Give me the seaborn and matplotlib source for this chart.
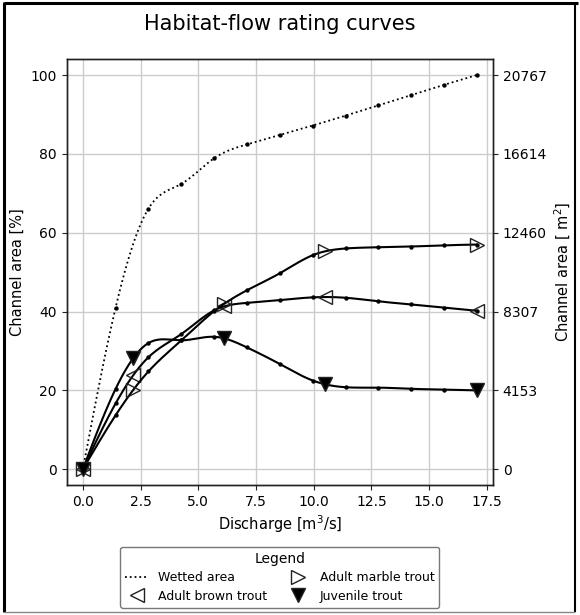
import numpy as np
import pandas as pd
import matplotlib
matplotlib.use("Agg")
import matplotlib.pyplot as plt
from matplotlib.lines import Line2D
import seaborn as sns

# Discharge steps [m3/s]
discharge = [0.0, 1.42, 2.84, 4.27, 5.69, 7.11, 8.53, 9.96, 11.38, 12.80, 14.22, 15.64, 17.07]
# Habitat as share of the total channel area [%]
wetted_area = [0.0, 41.0, 66.1, 72.4, 78.9, 82.4, 84.8, 87.2, 89.7, 92.3, 94.9, 97.5, 100.0]
adult_brown = [0.0, 16.7, 28.4, 34.3, 40.3, 42.2, 42.9, 43.6, 43.5, 42.6, 41.8, 41.0, 40.2]
adult_marble = [0.0, 13.7, 24.8, 32.7, 40.1, 45.4, 49.7, 54.3, 56.0, 56.3, 56.5, 56.8, 57.0]
juvenile = [0.0, 20.4, 32.0, 32.7, 33.6, 30.9, 26.7, 22.5, 20.8, 20.7, 20.4, 20.2, 20.0]
# Total channel area [m2]
total_area = 20767
# Flows at which the species symbols are shown
symbol_flows = [0.0, 2.2, 6.1, 10.5, 17.07]
pct_ticks = [0, 20, 40, 60, 80, 100]


def natural_spline(x, y, xs):
    x = np.asarray(x, float)
    y = np.asarray(y, float)
    n = len(x)
    h = np.diff(x)
    A = np.zeros((n, n))
    r = np.zeros(n)
    A[0, 0] = A[-1, -1] = 1.0
    for i in range(1, n - 1):
        A[i, i - 1] = h[i - 1]
        A[i, i] = 2 * (h[i - 1] + h[i])
        A[i, i + 1] = h[i]
        r[i] = 3 * ((y[i + 1] - y[i]) / h[i] - (y[i] - y[i - 1]) / h[i - 1])
    c = np.linalg.solve(A, r)
    b = (y[1:] - y[:-1]) / h - h * (2 * c[:-1] + c[1:]) / 3
    d = (c[1:] - c[:-1]) / (3 * h)
    idx = np.clip(np.searchsorted(x, xs) - 1, 0, n - 2)
    dx = xs - x[idx]
    return y[idx] + b[idx] * dx + c[idx] * dx ** 2 + d[idx] * dx ** 3


sns.set_theme(style="ticks", rc={
    "axes.edgecolor": "#222222",
    "axes.linewidth": 1.0,
    "grid.color": "#cccccc",
    "grid.linewidth": 1.0,
    "xtick.color": "#222222",
    "ytick.color": "#222222",
    "xtick.labelcolor": "black",
    "ytick.labelcolor": "black",
    "xtick.major.size": 3.5,
    "ytick.major.size": 3.5,
    "xtick.major.width": 0.8,
    "ytick.major.width": 0.8,
    "xtick.major.pad": 3.5,
    "ytick.major.pad": 3.5,
    "text.color": "black",
    "axes.labelcolor": "black",
})
plt.rcParams["font.family"] = ["DejaVu Sans"]

fig = plt.figure(figsize=(5.8, 6.15), dpi=100)
ax = fig.add_axes([0.115, 0.2114, 0.735, 0.6922])

dense = np.linspace(discharge[0], discharge[-1], 400)
symbol_idx = [int(np.argmin(np.abs(dense - q))) for q in symbol_flows]

df = pd.DataFrame({
    "discharge": discharge,
    "Wetted area": wetted_area,
    "Adult brown trout": adult_brown,
    "Adult marble trout": adult_marble,
    "Juvenile trout": juvenile,
})

styles = {
    "Wetted area": dict(ls=":", lw=1.3, marker=None),
    "Adult brown trout": dict(ls="-", lw=1.5, marker="<", mfc="none"),
    "Adult marble trout": dict(ls="-", lw=1.5, marker=">", mfc="none"),
    "Juvenile trout": dict(ls="-", lw=1.5, marker="v", mfc="black"),
}

for name, st in styles.items():
    smooth = natural_spline(df["discharge"], df[name], dense)
    kws = dict(color="black", linestyle=st["ls"], linewidth=st["lw"])
    if st["marker"] is not None:
        kws.update(marker=st["marker"], markevery=symbol_idx, markersize=10,
                   markerfacecolor=st["mfc"], markeredgecolor="#222222",
                   markeredgewidth=1.0)
    sns.lineplot(x=dense, y=smooth, ax=ax, sort=False, estimator=None, **kws)
    sns.scatterplot(x=df["discharge"], y=df[name], ax=ax, color="black",
                    s=10, linewidth=0, zorder=3)

ax.set_xlim(-0.7, 17.77)
ax.set_ylim(-4, 104)
ax.set_yticks(pct_ticks)
ax.set_xticks(np.arange(0, 17.6, 2.5))
ax.grid(True)
ax.set_axisbelow(True)
ax.tick_params(labelsize=10)
ax.set_xlabel("Discharge [m$^3$/s]", fontsize=10.5, labelpad=3)
ax.set_ylabel("Channel area [%]", fontsize=10.5)

ax2 = ax.twinx()
lo, hi = ax.get_ylim()
ax2.set_ylim(lo * total_area / 100, hi * total_area / 100)
ax2.set_yticks([round(total_area * p / 100) for p in pct_ticks])
ax2.tick_params(labelsize=10)
ax2.set_ylabel("Channel area [ m$^2$]", fontsize=10.5)
ax2.grid(False)

fig.suptitle("Habitat-flow rating curves", x=(0.115 + 0.85) / 2, y=0.978, fontsize=15)

handles = [
    Line2D([], [], color="black", ls=":", lw=1.3),
    Line2D([], [], ls="none", marker="<", ms=10, mfc="none", mec="#222222"),
    Line2D([], [], ls="none", marker=">", ms=10, mfc="none", mec="#222222"),
    Line2D([], [], ls="none", marker="v", ms=10, mfc="black", mec="#222222"),
]
labels = ["Wetted area", "Adult brown trout", "Adult marble trout", "Juvenile trout"]
leg = ax.legend(handles, labels, title="Legend", ncol=2, loc="upper center",
                bbox_to_anchor=(0.5, -0.13), fontsize=9, title_fontsize=10,
                frameon=True, edgecolor="#555555", fancybox=True,
                handlelength=1.8, columnspacing=1.6, borderpad=0.4,
                labelspacing=0.45, handletextpad=0.8)
leg.get_frame().set_linewidth(1.0)

# Window-style frame round the whole figure
W, H = 580.0, 615.0
frame = [
    ((4 / W, 4 / W), (3 / H, 1 - 2 / H), "black", 2.2),
    ((4 / W, 1 - 2 / W), (1 - 3 / H, 1 - 3 / H), "black", 2.2),
    ((1 - 5 / W, 1 - 5 / W), (3 / H, 1 - 2 / H), "black", 1.5),
    ((4 / W, 1 - 5 / W), (3 / H, 3 / H), "#888888", 1.0),
]
for xs, ys, col, lw in frame:
    fig.add_artist(Line2D(xs, ys, transform=fig.transFigure, color=col,
                          linewidth=lw, solid_capstyle="butt"))

fig.savefig("out.png", dpi=100)
